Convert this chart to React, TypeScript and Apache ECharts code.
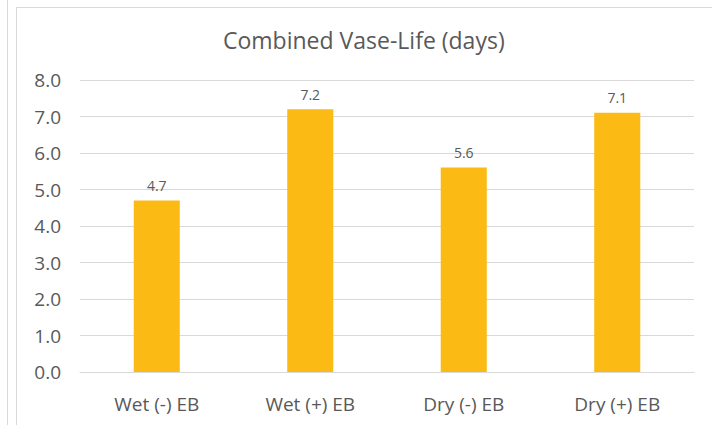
import React, { useEffect, useRef } from "react";
import * as echarts from "echarts";

const categories = ["Wet (-) EB", "Wet (+) EB", "Dry (-) EB", "Dry (+) EB"];
const values = [4.7, 7.2, 5.6, 7.1];
const yTicks = { min: 0, max: 8, interval: 1 };
const title = "Combined Vase-Life (days)";

export default function App() {
  const ref = useRef<HTMLDivElement>(null);
  useEffect(() => {
    if (!ref.current) return;
    const chart = echarts.init(ref.current, undefined, { renderer: "svg" });
    const font = "'Open Sans', 'Noto Sans', sans-serif";
    chart.setOption({
      animation: false,
      backgroundColor: "#ffffff",
      title: {
        text: title,
        left: 223,
        top: 28,
        padding: 0,
        textStyle: { fontFamily: font, fontSize: 23, fontWeight: "normal", color: "#595959" },
      },
      grid: { left: 80, right: 18, top: 80, bottom: 53 },
      xAxis: {
        type: "category",
        data: categories,
        axisLine: { show: true, lineStyle: { color: "#d9d9d9" } },
        axisTick: { show: false },
        axisLabel: { fontFamily: font, fontSize: 19, color: "#595959", margin: 22 },
      },
      yAxis: {
        type: "value",
        min: yTicks.min,
        max: yTicks.max,
        interval: yTicks.interval,
        axisLine: { show: false },
        axisTick: { show: false },
        splitLine: { lineStyle: { color: "#d9d9d9", width: 1 } },
        axisLabel: {
          fontFamily: font,
          fontSize: 19,
          color: "#595959",
          margin: 19,
          formatter: (v: number) => v.toFixed(1),
        },
      },
      series: [
        {
          type: "bar",
          data: values,
          barWidth: "30%",
          itemStyle: { color: "#FCBB14" },
          label: {
            show: true,
            position: "top",
            distance: 8,
            fontFamily: font,
            fontSize: 14,
            color: "#595959",
            formatter: (p: any) => Number(p.value).toFixed(1),
          },
        },
      ],
      graphic: [
        { type: "line", shape: { x1: 7.5, y1: 0, x2: 7.5, y2: 425 }, style: { stroke: "#d9d9d9", lineWidth: 1 } },
        { type: "line", shape: { x1: 16.5, y1: 7, x2: 16.5, y2: 425 }, style: { stroke: "#d9d9d9", lineWidth: 1 } },
        { type: "line", shape: { x1: 16, y1: 7.5, x2: 712, y2: 7.5 }, style: { stroke: "#d9d9d9", lineWidth: 1 } },
      ],
    });
    return () => chart.dispose();
  }, []);
  return (
    <div
      ref={ref}
      style={{ position: "absolute", left: 0, top: 0, width: 712, height: 425 }}
    />
  );
}
